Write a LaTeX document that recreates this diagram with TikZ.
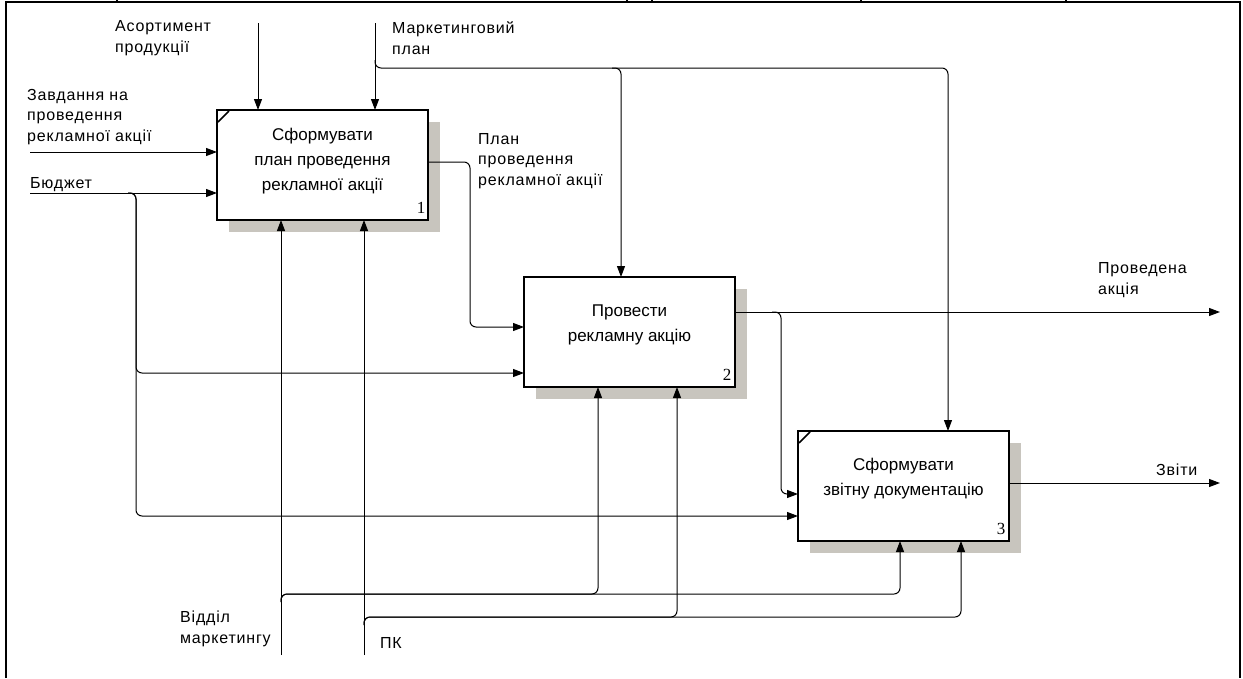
\documentclass[tikz,border=0pt]{standalone}
\usepackage{fontspec}
\setmainfont{Liberation Sans}
\newfontfamily\numfont{Liberation Serif}
\usetikzlibrary{arrows.meta,calc,backgrounds}
\definecolor{shadowc}{RGB}{200,197,190}
\begin{document}
\begin{tikzpicture}[x=1pt,y=-1pt,
  proc/.style={draw,line width=2.5pt,fill=white,minimum width=211pt,minimum height=110pt,anchor=north west,outer sep=0pt,inner sep=0pt},
  proctext/.style={align=center,font=\fontsize{17}{25}\selectfont,inner sep=0pt},
  lbl/.style={align=left,anchor=west,inner sep=0pt,font=\fontsize{16}{20.5}\selectfont\addfontfeature{LetterSpace=5}},
  numlbl/.style={font=\fontsize{17}{17}\numfont,inner sep=0pt},
  conn/.style={line width=1pt},
  arr/.style={conn,-{Triangle[length=11pt,width=8pt]}},
  rc/.style={rounded corners=6pt},
  frame/.style={line width=1.5pt}]
\useasboundingbox (0,0) rectangle (1243,678);

% frame
\coordinate (fBL) at (6,678);
\coordinate (fTL) at (6,2);
\coordinate (fTR) at (1240,2);
\coordinate (fBR) at (1240,678);
\draw[frame] (fBL) -- (fTL) -- (fTR) -- (fBR);
\foreach \tx in {117,627,652,861,1066} {
  \draw[frame] (\tx,0) -- (\tx,2);
}

% boxes
\node[proc] (b1) at (217,110) {};
\node[proc] (b2) at (524,277) {};
\node[proc] (b3) at (798,431) {};

\begin{scope}[on background layer]
  \foreach \b in {b1,b2,b3} {
    \fill[shadowc] ($(\b.north west)+(12,12)$) rectangle ($(\b.south east)+(12,12)$);
  }
\end{scope}

\draw[line width=1.5pt] ($(b1.north west)+(1,12)$) -- ($(b1.north west)+(12,1)$);
\draw[line width=1.5pt] ($(b3.north west)+(1,12)$) -- ($(b3.north west)+(12,1)$);

\node[proctext] (t1) at ($(b1.center)+(0,-4)$) {Сформувати\\план проведення\\рекламної акції};
\node[proctext] (t2) at ($(b2.center)+(0,-7)$) {Провести\\рекламну акцію};
\node[proctext] (t3) at ($(b3.center)+(0,-7)$) {Сформувати\\звітну документацію};

\node[numlbl] (n1) at ($(b1.south east)+(-7,-12)$) {1};
\node[numlbl] (n2) at ($(b2.south east)+(-8,-12)$) {2};
\node[numlbl] (n3) at ($(b3.south east)+(-8,-12)$) {3};

% labels
\node[lbl] (lAs) at (115,38) {Асортимент\\продукції};
\node[lbl] (lMk) at (392,38) {Маркетинговий\\план};
\node[lbl] (lZv) at (27,117) {Завдання на\\проведення\\рекламної акції};
\node[lbl] (lBj) at (30,185) {Бюджет};
\node[lbl] (lPl) at (478,161) {План\\проведення\\рекламної акції};
\node[lbl] (lPv) at (1098,280) {Проведена\\акція};
\node[lbl] (lZt) at (1156,470) {Звіти};
\node[lbl] (lVd) at (180,629) {Відділ\\маркетингу};
\node[lbl] (lPk) at (380,643) {ПК};

% controls
\coordinate (asTop) at (258,23);
\draw[arr] (asTop) -- (asTop |- b1.north);
\coordinate (mkTop) at (375,23);
\draw[arr] (mkTop) -- (mkTop |- b1.north);
\coordinate (mkBr) at (375,60);
\coordinate (mk3) at (948,68);
\draw[arr,rc] (mkBr) |- (mk3) -- (mk3 |- b3.north);
\coordinate (mkBr2) at (612,68);
\coordinate (mk2) at (621,68);
\draw[arr,rc] (mkBr2) -| (mk2 |- b2.north);

% inputs
\coordinate (zvStart) at (30,152);
\draw[arr] (zvStart) -- (zvStart -| b1.west);
\coordinate (bjStart) at (30,193);
\draw[arr] (bjStart) -- (bjStart -| b1.west);
\coordinate (bjBr) at (128,193);
\coordinate (bj2) at (136,373);
\coordinate (bj3) at (136,516);
\draw[arr,rc] (bjBr) -| (bj2) -- (bj2 -| b2.west);
\draw[arr,rc] (bjBr) -| (bj3) -- (bj3 -| b3.west);

% output 1 -> box 2
\coordinate (o1) at (470,162);
\coordinate (o1b) at (470,327);
\draw[arr,rc] (b1.east |- o1) -| (o1b) -- (o1b -| b2.west);

% output 2
\coordinate (pvEnd) at (1220,312);
\draw[arr] (b2.east |- pvEnd) -- (pvEnd);
\coordinate (pvBr) at (772,312);
\coordinate (pv3) at (781,494);
\draw[arr,rc] (pvBr) -| (pv3) -- (pv3 -| b3.west);

% output 3
\coordinate (ztEnd) at (1220,483);
\draw[arr] (b3.east |- ztEnd) -- (ztEnd);

% mechanisms
\coordinate (vdBot) at (281,655);
\draw[arr] (vdBot) -- (vdBot |- b1.south);
\coordinate (vdBr) at (281,602);
\coordinate (vd2) at (598,594);
\coordinate (vd3) at (900,594);
\draw[arr,rc] (vdBr) |- (vd2) -- (vd2 |- b2.south);
\draw[arr,rc] (vdBr) |- (vd3) -- (vd3 |- b3.south);

\coordinate (pkBot) at (364,655);
\draw[arr] (pkBot) -- (pkBot |- b1.south);
\coordinate (pkBr) at (364,625);
\coordinate (pk2) at (677,617);
\coordinate (pk3) at (961,617);
\draw[arr,rc] (pkBr) |- (pk2) -- (pk2 |- b2.south);
\draw[arr,rc] (pkBr) |- (pk3) -- (pk3 |- b3.south);
\end{tikzpicture}
\end{document}
